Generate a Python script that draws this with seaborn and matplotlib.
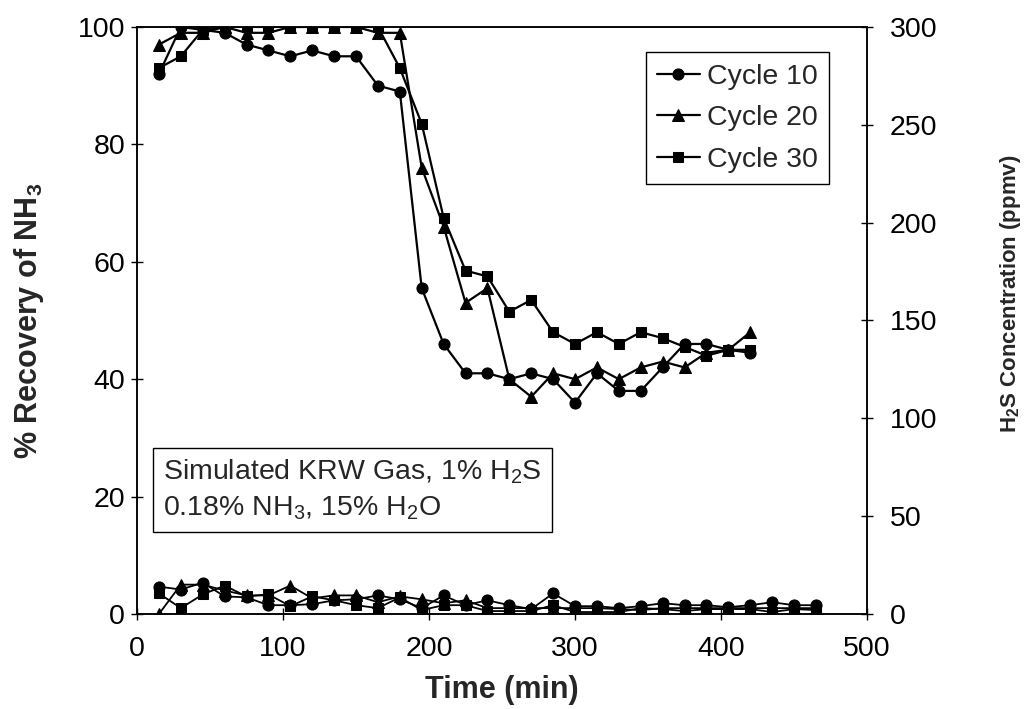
import numpy as np
import pandas as pd
import seaborn as sns
import matplotlib
matplotlib.use("Agg")
import matplotlib.pyplot as plt

# NH3 recovery (%) per cycle, left axis
time_nh3 = [15, 30, 45, 60, 75, 90, 105, 120, 135, 150, 165, 180, 195, 210,
            225, 240, 255, 270, 285, 300, 315, 330, 345, 360, 375, 390, 405, 420]
nh3_c10 = [92, 100, 99.5, 99, 97, 96, 95, 96, 95, 95, 90, 89, 55.5, 46,
           41, 41, 40, 41, 40, 36, 41, 38, 38, 42, 46, 46, 45, 44.5]
nh3_c20 = [97, 99, 99, 100, 99, 99, 100, 100, 100, 100, 99, 99, 76, 66,
           53, 55.5, 40, 37, 41, 40, 42, 40, 42, 43, 42, 44.5, 45, 48]
nh3_c30 = [93, 95, 99.5, 100, 100, 100, 100, 100, 100, 100, 100, 93, 83.5, 67.5,
           58.5, 57.5, 51.5, 53.5, 48, 46, 48, 46, 48, 47, 45.5, 44, 45, 45]

# H2S concentration (ppmv) per cycle, right axis
time_h2s = [15, 30, 45, 60, 75, 90, 105, 120, 135, 150, 165, 180, 195, 210, 225, 240,
            255, 270, 285, 300, 315, 330, 345, 360, 375, 390, 405, 420, 435, 450, 465]
h2s_c10 = [14, 12.5, 16, 9, 8.5, 4.5, 4.5, 5, 7, 7.5, 9.5, 7.5, 3, 9.5, 4.5, 7,
           4.5, 2.5, 10.5, 4, 4, 3, 4, 5.5, 4.5, 4.5, 3.5, 4.5, 6, 4.5, 4.5]
h2s_c20 = [0, 15, 15, 12, 9.5, 9.5, 14.5, 8, 9.5, 9.5, 6, 9, 7.5, 5.5, 7, 3,
           3, 3, 3, 3, 3, 2.5, 2, 3, 3, 3, 3, 3, 3, 3, 3]
h2s_c30 = [10.5, 3, 10, 14.5, 9, 10, 4, 9, 7, 4.5, 3, 8.5, 2, 4.5, 4.5, 1.5,
           1.5, 1.5, 4.5, 1, 1, 1, 3, 2.5, 1.5, 2.5, 2.5, 2.5, 1, 2.5, 2]

cycles = ["Cycle 10", "Cycle 20", "Cycle 30"]
markers = ["o", "^", "s"]
msizes = [8, 8.5, 7.5]

sns.set_style("ticks")
plt.rcParams["font.family"] = ["Liberation Sans", "DejaVu Sans"]
plt.rcParams["mathtext.default"] = "regular"

fig = plt.figure(figsize=(10.35, 7.09), dpi=100)
ax = fig.add_axes([0.1324, 0.134, 0.7053, 0.828])
ax2 = ax.twinx()

for name, vals, m, ms in zip(cycles, [nh3_c10, nh3_c20, nh3_c30], markers, msizes):
    sns.lineplot(x=time_nh3, y=vals, ax=ax, color="black", marker=m, markersize=ms,
                 markeredgecolor="black", linewidth=1.6, label=name)

for vals, m, ms in zip([h2s_c10, h2s_c20, h2s_c30], markers, msizes):
    sns.lineplot(x=time_h2s, y=vals, ax=ax2, color="black", marker=m, markersize=ms,
                 markeredgecolor="black", linewidth=1.3, legend=False)

ax.set_xlim(0, 500)
ax.set_ylim(0, 100)
ax2.set_ylim(0, 300)
ax.set_xticks([0, 100, 200, 300, 400, 500])
ax.set_yticks([0, 20, 40, 60, 80, 100])
ax2.set_yticks([0, 50, 100, 150, 200, 250, 300])

for a in (ax, ax2):
    a.tick_params(direction="inout", length=9, width=1, labelsize=20.5, colors="black")
    for s in a.spines.values():
        s.set_visible(True)
        s.set_color("black")
        s.set_linewidth(1.1)
ax.tick_params(axis="x", pad=11)
ax.tick_params(axis="y", pad=4)
ax2.tick_params(axis="y", pad=12)

ax.set_xlabel("Time (min)", fontsize=22, fontweight="bold", labelpad=10)
ax.set_ylabel("% Recovery of NH$_3$", fontsize=22, fontweight="bold")
ax.yaxis.set_label_coords(-0.125, 0.5)
ax2.set_ylabel("H$_2$S Concentration (ppmv)", fontsize=16, fontweight="bold")
ax2.yaxis.set_label_coords(1.18, 0.545)

leg = ax.legend(loc="upper right", bbox_to_anchor=(0.948, 0.957), borderaxespad=0,
                fontsize=20.5, frameon=True, fancybox=False, edgecolor="black",
                framealpha=1, handlelength=1.5, handletextpad=0.25,
                labelspacing=0.55, borderpad=0.4)
leg.get_frame().set_linewidth(1)

ax.text(0.036, 0.2666, "Simulated KRW Gas, 1% H$_2$S\n0.18% NH$_3$, 15% H$_2$O",
        transform=ax.transAxes, fontsize=20.5, va="top", ha="left", linespacing=1.42,
        bbox=dict(boxstyle="square,pad=0.35", fc="white", ec="black", lw=1))

fig.savefig("out.png", dpi=100)
